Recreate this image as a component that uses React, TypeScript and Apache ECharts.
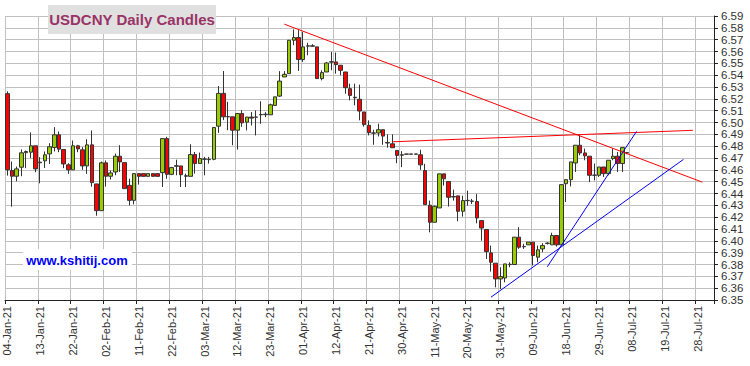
import React, { useEffect, useRef } from "react";
import * as echarts from "echarts";

// Weekday calendar shown on the axis (04-Jan-21 .. 02-Aug-21)
const MONTHS = ["Jan", "Feb", "Mar", "Apr", "May", "Jun", "Jul", "Aug", "Sep", "Oct", "Nov", "Dec"];
const START_DATE = "2021-01-04";
const DAY_COUNT = 151;
function buildCategories(): string[] {
  const out: string[] = [];
  const d = new Date(START_DATE + "T00:00:00Z");
  while (out.length < DAY_COUNT) {
    const wd = d.getUTCDay();
    if (wd !== 0 && wd !== 6) {
      const dd = String(d.getUTCDate()).padStart(2, "0");
      const yy = String(d.getUTCFullYear()).slice(2);
      out.push(`${dd}-${MONTHS[d.getUTCMonth()]}-${yy}`);
    }
    d.setUTCDate(d.getUTCDate() + 1);
  }
  return out;
}
const categories = buildCategories();

const opens = [
  6.5244, 6.4594, 6.4546, 6.4622, 6.4745, 6.4749, 6.4803, 6.4660, 6.4676, 6.4735,
  6.4789, 6.4896, 6.4772, 6.4642, 6.4600, 6.4803, 6.4769, 6.4633, 6.4811, 6.4481,
  6.4255, 6.4659, 6.4546, 6.4582, 6.4715, 6.4661, 6.4469, 6.4342, 6.4568, 6.4568,
  6.4545, 6.4568, 6.4568, 6.4576, 6.4864, 6.4562, 6.4630, 6.4633, 6.4550, 6.4545,
  6.4729, 6.4653, 6.4689, 6.4686, 6.4689, 6.4969, 6.5246, 6.5048, 6.5048, 6.4935,
  6.5076, 6.5003, 6.5046, 6.5045, 6.5065, 6.5066, 6.5065, 6.5144, 6.5223, 6.5385,
  6.5413, 6.5695, 6.5718, 6.5532, 6.5645, 6.5648, 6.5639, 6.5371, 6.5427, 6.5510,
  6.5512, 6.5484, 6.5427, 6.5286, 6.5213, 6.5196, 6.5089, 6.4976, 6.4912, 6.4912,
  6.4939, 6.4830, 6.4820, 6.4764, 6.4727, 6.4734, 6.4734, 6.4734, 6.4727, 6.4594,
  6.4301, 6.4157, 6.4278, 6.4566, 6.4501, 6.4374, 6.4380, 6.4250, 6.4340, 6.4336,
  6.4332, 6.4171, 6.4096, 6.3898, 6.3811, 6.3678, 6.3686, 6.3799, 6.3800, 6.4031,
  6.3952, 6.3966, 6.3989, 6.3862, 6.3932, 6.3978, 6.3966, 6.4045, 6.3966, 6.4483,
  6.4517, 6.4658, 6.4808, 6.4743, 6.4715, 6.4554, 6.4554, 6.4624, 6.4568, 6.4695,
  6.4715, 6.4653, 6.4745,
];
const closes = [
  6.4600, 6.4546, 6.4608, 6.4744, 6.4755, 6.4803, 6.4608, 6.4665, 6.4727, 6.4795,
  6.4896, 6.4775, 6.4650, 6.4600, 6.4803, 6.4777, 6.4633, 6.4811, 6.4492, 6.4255,
  6.4659, 6.4546, 6.4574, 6.4715, 6.4667, 6.4441, 6.4342, 6.4568, 6.4545, 6.4545,
  6.4568, 6.4545, 6.4545, 6.4864, 6.4562, 6.4619, 6.4635, 6.4559, 6.4546, 6.4729,
  6.4653, 6.4695, 6.4692, 6.4689, 6.4958, 6.5246, 6.5048, 6.5050, 6.4935, 6.5076,
  6.4997, 6.5046, 6.5037, 6.5046, 6.5068, 6.5070, 6.5150, 6.5217, 6.5350, 6.5407,
  6.5695, 6.5718, 6.5532, 6.5639, 6.5648, 6.5645, 6.5371, 6.5422, 6.5503, 6.5514,
  6.5489, 6.5441, 6.5294, 6.5229, 6.5209, 6.5097, 6.4982, 6.4914, 6.4910, 6.4939,
  6.4885, 6.4827, 6.4787, 6.4722, 6.4724, 6.4732, 6.4732, 6.4732, 6.4642, 6.4306,
  6.4157, 6.4292, 6.4566, 6.4524, 6.4368, 6.4371, 6.4250, 6.4340, 6.4342, 6.4334,
  6.4193, 6.4108, 6.3909, 6.3819, 6.3678, 6.3698, 6.3805, 6.3802, 6.4031, 6.3946,
  6.3950, 6.3989, 6.3876, 6.3924, 6.3960, 6.3980, 6.4045, 6.3966, 6.4475, 6.4517,
  6.4667, 6.4808, 6.4743, 6.4718, 6.4554, 6.4555, 6.4624, 6.4568, 6.4681, 6.4715,
  6.4653, 6.4788, 6.4742,
];
const lows = [
  6.4551, 6.4289, 6.4503, 6.4546, 6.4614, 6.4699, 6.4580, 6.4486, 6.4616, 6.4650,
  6.4755, 6.4749, 6.4614, 6.4566, 6.4600, 6.4749, 6.4600, 6.4566, 6.4458, 6.4212,
  6.4255, 6.4458, 6.4518, 6.4554, 6.4582, 6.4441, 6.4299, 6.4308, 6.4475, 6.4545,
  6.4545, 6.4545, 6.4545, 6.4455, 6.4525, 6.4555, 6.4554, 6.4455, 6.4455, 6.4545,
  6.4568, 6.4653, 6.4554, 6.4653, 6.4681, 6.4912, 6.5020, 6.4935, 6.4808, 6.4771,
  6.4963, 6.4933, 6.4975, 6.4891, 6.4989, 6.5046, 6.5065, 6.5144, 6.5217, 6.5385,
  6.5413, 6.5653, 6.5436, 6.5512, 6.5568, 6.5640, 6.5371, 6.5356, 6.5427, 6.5441,
  6.5413, 6.5399, 6.5243, 6.5187, 6.5145, 6.5018, 6.4965, 6.4891, 6.4812, 6.4882,
  6.4812, 6.4787, 6.4787, 6.4656, 6.4623, 6.4732, 6.4732, 6.4732, 6.4600, 6.4306,
  6.4072, 6.4157, 6.4278, 6.4467, 6.4289, 6.4340, 6.4165, 6.4205, 6.4298, 6.4312,
  6.4148, 6.4001, 6.3847, 6.3740, 6.3607, 6.3593, 6.3650, 6.3777, 6.3800, 6.3932,
  6.3932, 6.3966, 6.3791, 6.3819, 6.3904, 6.3969, 6.3966, 6.3952, 6.3966, 6.4328,
  6.4460, 6.4582, 6.4723, 6.4681, 6.4497, 6.4511, 6.4540, 6.4540, 6.4554, 6.4681,
  6.4582, 6.4582, 6.4732,
];
const highs = [
  6.5263, 6.4670, 6.4628, 6.4772, 6.4763, 6.4916, 6.4803, 6.4707, 6.4755, 6.4825,
  6.4961, 6.4924, 6.4772, 6.4656, 6.4848, 6.4811, 6.4792, 6.4859, 6.4933, 6.4481,
  6.4670, 6.4679, 6.4594, 6.4737, 6.4808, 6.4661, 6.4525, 6.4573, 6.4568, 6.4568,
  6.4568, 6.4568, 6.4568, 6.4864, 6.4879, 6.4625, 6.4686, 6.4633, 6.4568, 6.4816,
  6.4751, 6.4746, 6.4709, 6.4709, 6.4958, 6.5308, 6.5435, 6.5175, 6.5048, 6.5076,
  6.5104, 6.5046, 6.5088, 6.5102, 6.5179, 6.5088, 6.5159, 6.5217, 6.5434, 6.5434,
  6.5695, 6.5786, 6.5780, 6.5766, 6.5673, 6.5662, 6.5639, 6.5441, 6.5512, 6.5597,
  6.5591, 6.5484, 6.5427, 6.5328, 6.5328, 6.5320, 6.5089, 6.5018, 6.4939, 6.4990,
  6.4939, 6.4900, 6.4900, 6.4766, 6.4758, 6.4734, 6.4734, 6.4734, 6.4770, 6.4651,
  6.4340, 6.4298, 6.4566, 6.4566, 6.4501, 6.4433, 6.4380, 6.4382, 6.4424, 6.4354,
  6.4397, 6.4171, 6.4096, 6.3960, 6.3811, 6.3777, 6.3805, 6.3819, 6.4031, 6.4116,
  6.3975, 6.3989, 6.3989, 6.3960, 6.3980, 6.3989, 6.4068, 6.4045, 6.4475, 6.4517,
  6.4667, 6.4808, 6.4893, 6.4780, 6.4715, 6.4653, 6.4624, 6.4624, 6.4681, 6.4780,
  6.4751, 6.4788, 6.4751,
];

// Trend lines: [date, value] end points
const redTrendDown: [string, number][] = [["26-Mar-21", 6.5831], ["29-Jul-21", 6.4496]];
const redTrendFlat: [string, number][] = [["28-Apr-21", 6.4837], ["27-Jul-21", 6.4934]];
const blueTrendSteep: [string, number][] = [["14-Jun-21", 6.3781], ["09-Jul-21", 6.4925]];
const blueTrendShallow: [string, number][] = [["27-May-21", 6.3524], ["23-Jul-21", 6.4688]];

const yTicks = { min: 6.35, max: 6.59, step: 0.01 };
const TITLE = "USDCNY Daily Candles";
const WATERMARK = "www.kshitij.com";

export default function App() {
  const ref = useRef<HTMLDivElement>(null);
  useEffect(() => {
    if (!ref.current) return;
    const chart = echarts.init(ref.current, null, { renderer: "svg" });
    const candleData = opens.map((o, i) => [o, closes[i], lows[i], highs[i]]);
    const font = "'Liberation Sans', Arial, sans-serif";
    const trend = (data: [string, number][], color: string) => ({
      type: "line",
      data,
      symbol: "none",
      silent: true,
      z: 5,
      lineStyle: { color, width: 1 },
    });
    chart.setOption({
      animation: false,
      backgroundColor: "#ffffff",
      textStyle: { fontFamily: font },
      grid: { left: 5, right: 36, top: 16, bottom: 66, containLabel: false },
      xAxis: {
        type: "category",
        data: categories,
        boundaryGap: true,
        axisLine: { show: true, lineStyle: { color: "#222", width: 1 } },
        axisTick: { show: true, interval: 6, length: 4, lineStyle: { color: "#222" } },
        axisLabel: {
          interval: 6,
          rotate: 90,
          fontSize: 11,
          color: "#333",
          fontFamily: font,
          margin: 6,
        },
        splitLine: { show: true, interval: 6, lineStyle: { color: "#c0c0c0", width: 1 } },
      },
      yAxis: {
        type: "value",
        position: "right",
        min: yTicks.min,
        max: yTicks.max,
        interval: yTicks.step,
        scale: true,
        axisLine: { show: true, lineStyle: { color: "#222", width: 1 } },
        axisTick: { show: true, length: 4, lineStyle: { color: "#222" } },
        axisLabel: {
          fontSize: 11.5,
          color: "#333",
          fontFamily: font,
          margin: 7,
          formatter: (v: number) => v.toFixed(2),
        },
        splitLine: { show: true, lineStyle: { color: "#c0c0c0", width: 1 } },
      },
      series: [
        {
          type: "candlestick",
          data: candleData,
          barWidth: 4,
          z: 3,
          itemStyle: {
            color: "#99cc00",
            color0: "#ff0000",
            borderColor: "#333333",
            borderColor0: "#333333",
            borderWidth: 1,
          },
        },
        trend(redTrendDown, "#ff0000"),
        trend(redTrendFlat, "#ff0000"),
        trend(blueTrendSteep, "#0000ff"),
        trend(blueTrendShallow, "#0000ff"),
      ],
      graphic: [
        {
          type: "rect",
          z: 100,
          shape: { x: 48, y: 5, width: 168, height: 29 },
          style: { fill: "#e0e0e0" },
        },
        {
          type: "text",
          z: 101,
          x: 132,
          y: 19.5,
          style: {
            text: TITLE,
            fill: "#993366",
            font: `bold 15px ${font}`,
            textAlign: "center",
            textVerticalAlign: "middle",
          },
        },
        {
          type: "rect",
          z: 100,
          shape: { x: 23, y: 249, width: 109, height: 21 },
          style: { fill: "#ffffff" },
        },
        {
          type: "text",
          z: 101,
          x: 77,
          y: 260,
          style: {
            text: WATERMARK,
            fill: "#0000ff",
            font: `bold 13px ${font}`,
            textAlign: "center",
            textVerticalAlign: "middle",
          },
        },
      ],
    });
    return () => chart.dispose();
  }, []);
  return (
    <div
      ref={ref}
      style={{ position: "absolute", left: 0, top: 0, width: 750, height: 366, background: "#fff" }}
    />
  );
}
